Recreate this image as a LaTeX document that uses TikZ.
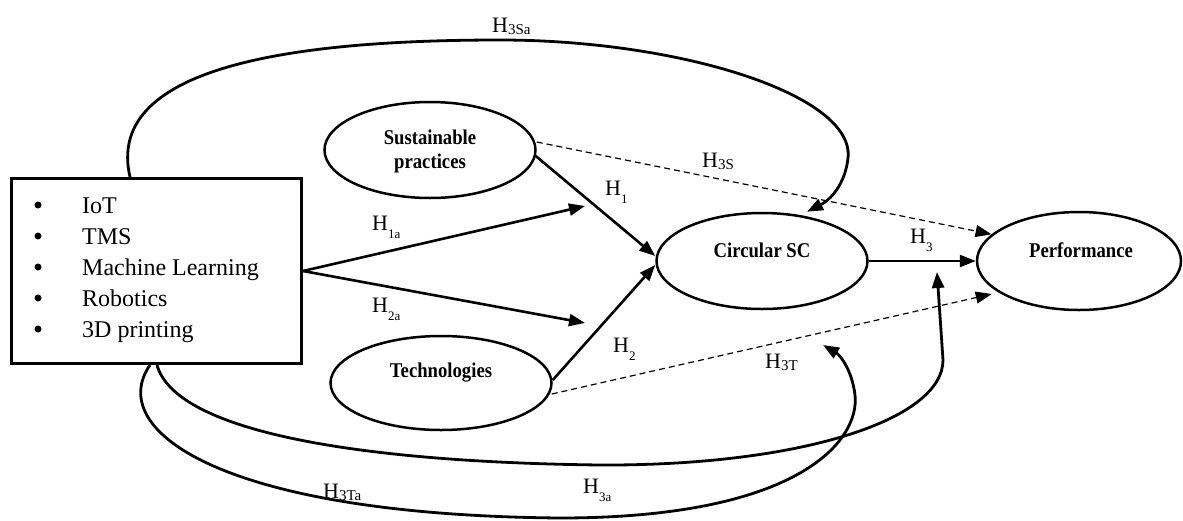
\documentclass[tikz,border=0pt]{standalone}
\usepackage{fontspec}
\setmainfont{Liberation Serif}
\newfontfamily\condfont[FakeStretch=0.89]{Liberation Serif}
\usetikzlibrary{arrows.meta,shapes.geometric,calc}
\newcommand\HL[1]{H\raisebox{-8pt}{\fontsize{13}{13}\selectfont #1}}
\newcommand\HB[1]{H\raisebox{-2pt}{\fontsize{15}{15}\selectfont #1}}
\begin{document}
\begin{tikzpicture}[x=1pt,y=-1pt,
  ell/.style={draw, ellipse, line width=2.5pt, inner sep=0pt},
  ntext/.style={font={\condfont\bfseries\fontsize{21}{24}\selectfont}, align=center, inner sep=0pt},
  item/.style={font={\fontsize{24}{27}\selectfont}, anchor=base west, inner sep=0pt},
  bul/.style={circle, fill, minimum size=7pt, inner sep=0pt},
  hyp/.style={font={\fontsize{22}{24}\selectfont}, anchor=base west, inner sep=0pt},
  tip/.style={-{Triangle[length=16pt,width=12pt]}},
  solidarrow/.style={line width=2.6pt, tip},
  dasharrow/.style={line width=1.2pt, dash pattern=on 6pt off 4pt, tip},
  loopline/.style={line width=2.8pt, tip},
]
\useasboundingbox (0,0) rectangle (1183,520);

% technology box
\node[draw, line width=3pt, minimum width=290pt, minimum height=185pt, inner sep=0pt, anchor=north west] (box) at (10,177) {};
\node[bul] (b1) at (38,205) {}; \node[item] (i1) at (82,213) {IoT};
\node[bul] (b2) at (38,236) {}; \node[item] (i2) at (82,244) {TMS};
\node[bul] (b3) at (38,267) {}; \node[item] (i3) at (82,275) {Machine Learning};
\node[bul] (b4) at (38,298) {}; \node[item] (i4) at (82,306) {Robotics};
\node[bul] (b5) at (38,329) {}; \node[item] (i5) at (82,337) {3D printing};

% constructs
\node[ell, minimum width=211pt, minimum height=96pt] (sp) at (430,150) {};
\node[ntext] (spt) at (430,151) {Sustainable\\practices};
\node[ell, minimum width=211pt, minimum height=96pt] (csc) at (762,261) {};
\node[ntext] (csct) at (762,250) {Circular SC};
\node[ell, minimum width=204pt, minimum height=98pt] (perf) at (1079,261) {};
\node[ntext] (perft) at (1081,250) {Performance};
\node[ell, minimum width=221pt, minimum height=94pt] (tech) at (441,383) {};
\node[ntext] (techt) at (441,373) {Technologies};

% free ends
\coordinate (h1aend) at (585,206);
\coordinate (h2aend) at (585,323);
\coordinate (modH3) at (937,272);
\coordinate (modH3T) at (823,345);

% direct paths
\draw[solidarrow] (box.east) -- (h1aend);
\draw[solidarrow] (box.east) -- (h2aend);
\draw[solidarrow] ($(sp.east)+(-1,6)$) -- ($(csc.west)+(0,-5)$);
\draw[solidarrow] ($(tech.east)+(0,-3)$) -- ($(csc.west)+(0,4)$);
\draw[solidarrow] (csc.east) -- (perf.west);
\draw[dasharrow] ($(sp.east)+(0,-8)$) -- (perf.163);
\draw[dasharrow] ($(tech.east)+(-1,11)$) -- ($(perf.west)+(16,33)$);

% loops
\draw[loopline] ($(box.north west)+(120,0)$) .. controls (105,70) and (280,40) .. (500,40)
  .. controls (680,40) and (855,95) .. (848,158)
  .. controls (845,185) and (830,200) .. ($(csc.north)+(45,0)$);
\draw[loopline] ($(box.south west)+(147,0)$) .. controls (175,430) and (350,462) .. (600,465)
  .. controls (800,466) and (943,420) .. (943,360) -- (modH3);
\draw[loopline] ($(box.south west)+(140,0)$) .. controls (105,430) and (220,515) .. (560,518)
  .. controls (800,518) and (860,440) .. (855,395)
  .. controls (852,370) and (840,355) .. (modH3T);

% labels
\node[hyp] (lH1a) at (372,230) {\HL{1a}};
\node[hyp] (lH2a) at (372,312) {\HL{2a}};
\node[hyp] (lH1) at (605,195) {\HL{1}};
\node[hyp] (lH2) at (613,352) {\HL{2}};
\node[hyp] (lH3) at (910,243) {\HL{3}};
\node[hyp] (lH3S) at (702,167) {\HB{3S}};
\node[hyp] (lH3Sa) at (492,32) {\HB{3Sa}};
\node[hyp] (lH3Ta) at (323,498) {\HB{3Ta}};
\node[hyp] (lH3a) at (583,493) {\HL{3a}};
\node[hyp] (lH3T) at (765,368) {\HB{3T}};
\end{tikzpicture}
\end{document}
